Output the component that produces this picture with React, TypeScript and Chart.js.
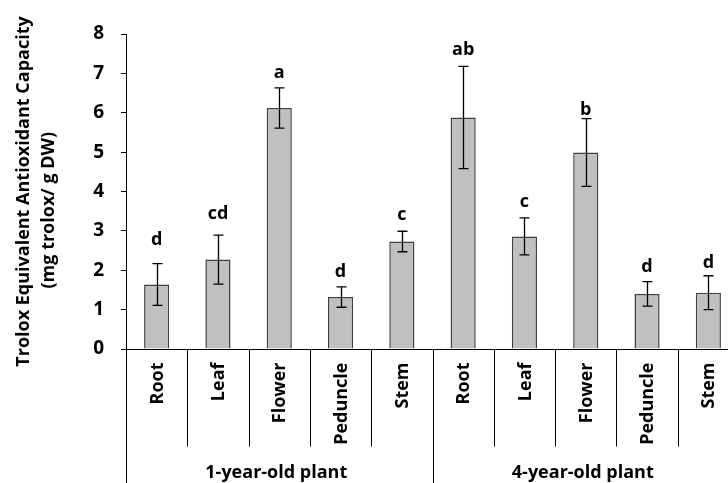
import React, { useEffect, useRef } from "react";
import { Chart, registerables } from "chart.js";

Chart.register(...registerables);

const categories = ["Root", "Leaf", "Flower", "Peduncle", "Stem", "Root", "Leaf", "Flower", "Peduncle", "Stem"];
const groups = ["1-year-old plant", "4-year-old plant"];
const groupSize = 5;
const values = [1.64, 2.27, 6.12, 1.32, 2.73, 5.88, 2.86, 4.99, 1.4, 1.43];
const errors = [0.53, 0.62, 0.51, 0.26, 0.26, 1.3, 0.47, 0.86, 0.31, 0.43];
const letters = ["d", "cd", "a", "d", "c", "ab", "c", "b", "d", "d"];
const letterPos = [2.64, 3.29, 6.87, 1.84, 3.27, 7.46, 3.61, 5.94, 1.95, 2.05];
const yMin = 0;
const yMax = 8;
const yStep = 1;
const titleLines = ["Trolox Equivalent Antioxidant Capacity", "(mg trolox/ g DW)\u00a0\u00a0\u00a0\u00a0\u00a0\u00a0\u00a0\u00a0"];

const FONT = "'Open Sans', sans-serif";

const overlay = {
  id: "overlay",
  afterDatasetsDraw(chart: any) {
    const { ctx, scales, chartArea } = chart;
    const x = scales.x;
    const y = scales.y;
    const y0 = Math.round(y.getPixelForValue(0)) + 0.5;
    const step = x.getPixelForValue(1) - x.getPixelForValue(0);
    const left = Math.round(chartArea.left) + 0.5;
    ctx.save();
    // error bars
    ctx.strokeStyle = "#000";
    ctx.lineWidth = 1.3;
    values.forEach((v, i) => {
      const px = Math.round(x.getPixelForValue(i)) + 0.5;
      const t = y.getPixelForValue(v + errors[i]);
      const b = y.getPixelForValue(v - errors[i]);
      ctx.beginPath();
      ctx.moveTo(px, t);
      ctx.lineTo(px, b);
      ctx.moveTo(px - 5, t);
      ctx.lineTo(px + 5, t);
      ctx.moveTo(px - 5, b);
      ctx.lineTo(px + 5, b);
      ctx.stroke();
    });
    // letters
    ctx.fillStyle = "#000";
    ctx.font = `bold 18px ${FONT}`;
    ctx.textAlign = "center";
    ctx.textBaseline = "alphabetic";
    letters.forEach((l, i) => {
      ctx.fillText(l, x.getPixelForValue(i), y.getPixelForValue(letterPos[i]));
    });
    // axis lines
    ctx.strokeStyle = "#000";
    ctx.lineWidth = 1;
    ctx.beginPath();
    ctx.moveTo(left, y0);
    ctx.lineTo(chart.width, y0);
    ctx.moveTo(left, y0);
    ctx.lineTo(left, chart.height);
    for (let b = 1; b <= categories.length; b++) {
      const bx = Math.round(x.getPixelForValue(b) - step / 2) + 0.5;
      ctx.moveTo(bx, y0);
      ctx.lineTo(bx, b % groupSize === 0 ? chart.height : y0 + 97);
    }
    ctx.stroke();
    // category labels
    ctx.font = `bold 18px ${FONT}`;
    categories.forEach((c, i) => {
      ctx.save();
      ctx.translate(x.getPixelForValue(i) + 1, y0 + 13);
      ctx.rotate(-Math.PI / 2);
      ctx.textAlign = "right";
      ctx.textBaseline = "middle";
      ctx.fillText(c, 0, 0);
      ctx.restore();
    });
    // group labels
    ctx.textAlign = "center";
    ctx.textBaseline = "alphabetic";
    groups.forEach((g, gi) => {
      const first = x.getPixelForValue(gi * groupSize) - step / 2;
      const last = x.getPixelForValue(gi * groupSize + groupSize - 1) + step / 2;
      ctx.fillText(g, (first + last) / 2 - 3, y0 + 128);
    });
    ctx.restore();
  },
};

export default function App() {
  const ref = useRef<HTMLCanvasElement>(null);
  useEffect(() => {
    if (!ref.current) return;
    const chart = new Chart(ref.current, {
      type: "bar",
      data: {
        labels: categories,
        datasets: [
          {
            data: values,
            backgroundColor: "#c0c0c0",
            borderColor: "#404040",
            borderWidth: 1.5,
            barPercentage: 0.41,
            categoryPercentage: 1,
          },
        ],
      },
      options: {
        responsive: false,
        animation: false,
        devicePixelRatio: 1,
        layout: { padding: { left: 0, right: 21, top: 34, bottom: 134 } },
        plugins: { legend: { display: false }, tooltip: { enabled: false } },
        scales: {
          x: { display: false },
          y: {
            min: yMin,
            max: yMax,
            afterFit: (s: any) => {
              s.width = 126;
            },
            ticks: {
              stepSize: yStep,
              color: "#000",
              padding: 17,
              font: { family: FONT, size: 19, weight: "bold" },
            },
            grid: { drawOnChartArea: false, drawTicks: true, tickLength: 5, color: "#000", lineWidth: 1 },
            border: { display: true, color: "#000", width: 1 },
            title: {
              display: true,
              text: titleLines,
              color: "#000",
              padding: { top: 12, bottom: 0 },
              font: { family: FONT, size: 18, weight: "bold", lineHeight: 1.35 },
            },
          },
        },
      },
      plugins: [overlay],
    });
    return () => chart.destroy();
  }, []);
  return (
    <div style={{ position: "absolute", left: 0, top: 0, width: 728, height: 483, overflow: "hidden", background: "#fff" }}>
      <canvas ref={ref} width={760} height={483} style={{ display: "block" }} />
    </div>
  );
}
